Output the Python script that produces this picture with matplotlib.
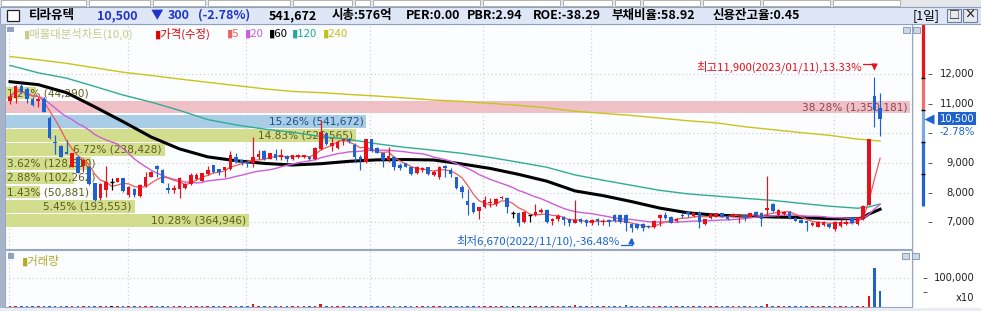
import matplotlib
matplotlib.use("Agg")
import matplotlib.pyplot as plt
import numpy as np
import pandas as pd
from matplotlib.patches import Rectangle
from matplotlib.transforms import offset_copy

plt.rcParams["font.family"] = ["Noto Sans CJK KR", "DejaVu Sans"]

# ---- daily candles (oldest first) ----
opens = [
    11110, 11190, 11600, 11520, 11160, 11090, 11160, 10510, 9700, 9580,
    9370, 8880, 9220, 8900, 8860, 8320, 7810, 8090, 8370, 8370,
    8480, 7920, 8110, 7890, 8230, 8540, 8900, 8770, 8150, 8090,
    8110, 8150, 8290, 8450, 8410, 8630, 8920, 8790, 8770, 8790,
    9200, 9100, 9050, 8990, 9200, 9420, 9150, 9310, 9200, 9250,
    9130, 9200, 9220, 9220, 9130, 9470, 10030, 9580, 9500, 9740,
    9800, 9610, 9220, 9050, 9800, 9510, 9330, 9100, 9220, 8940,
    8990, 8860, 8650, 8750, 8860, 8590, 8540, 8900, 8770, 8520,
    8200, 7730, 7640, 7390, 7530, 7640, 7620, 7810, 7810, 7300,
    7330, 7020, 7240, 7250, 7360, 7420, 7060, 7100, 7170, 7100,
    6990, 7100, 7080, 6970, 7120, 7020, 7080, 7250, 7250, 7250,
    6940, 6940, 6940, 6880, 6830, 7130, 7250, 7190, 7030, 7250,
    7350, 7210, 7350, 6940, 7130, 7190, 7300, 7210, 7190, 7210,
    7250, 7190, 7360, 7330, 7420, 7620, 7250, 7280, 7360, 7150,
    7080, 7050, 6910, 6850, 6910, 6940, 6760, 6890, 6940, 7170,
    6940, 7100, 7580, 11270, 10850]
highs = [
    11360, 11640, 11720, 11580, 11220, 11220, 11220, 10590, 9950, 9610,
    9780, 9350, 9240, 9130, 8880, 8340, 8320, 8900, 8490, 8500,
    8510, 8230, 8150, 8280, 8710, 8740, 8920, 8790, 8320, 8260,
    8540, 8330, 8650, 8670, 8680, 8900, 8950, 8810, 8880, 9420,
    9330, 9130, 9070, 9870, 9440, 9440, 9350, 9470, 9490, 9280,
    9290, 9300, 9290, 9250, 9530, 10460, 10060, 9840, 9780, 9830,
    9840, 9670, 9270, 9830, 9830, 9560, 9350, 9530, 9250, 9000,
    9010, 8880, 8900, 8860, 8880, 8770, 8900, 8920, 8820, 8540,
    8260, 8110, 7670, 7530, 7890, 7810, 7810, 7890, 7850, 7390,
    7350, 7390, 7240, 7620, 7470, 7450, 7160, 7280, 7210, 7140,
    7750, 7130, 7100, 7100, 7150, 7120, 7120, 7270, 7270, 7270,
    6970, 6970, 6970, 6900, 7080, 7270, 7350, 7210, 7150, 7300,
    7370, 7360, 7370, 7120, 7300, 7330, 7330, 7240, 7300, 7280,
    7280, 7330, 7390, 7350, 8560, 7640, 7440, 7390, 7390, 7170,
    7100, 7080, 7010, 7030, 7030, 6970, 7030, 7100, 7080, 7190,
    7190, 7570, 9810, 11900, 11360]
lows = [
    11000, 11020, 11360, 11020, 10940, 10900, 10720, 9810, 9300, 9200,
    9300, 8860, 8660, 8710, 8260, 7730, 7750, 7870, 8090, 8350,
    8040, 7840, 7840, 7870, 8200, 8520, 8540, 8320, 7980, 7980,
    7810, 8120, 8260, 8430, 8380, 8600, 8650, 8600, 8540, 8770,
    9010, 8920, 8880, 8880, 9150, 9100, 9130, 9120, 9100, 9050,
    9100, 9160, 9180, 9100, 9100, 9440, 9610, 9420, 9460, 9610,
    9670, 9050, 8770, 9010, 9380, 9330, 8880, 9050, 8770, 8750,
    8860, 8590, 8630, 8710, 8590, 8560, 8450, 8520, 8520, 8110,
    7810, 7250, 7300, 7100, 7470, 7530, 7560, 7790, 7330, 7130,
    6890, 6990, 7000, 7210, 7300, 6960, 6910, 7050, 6910, 6880,
    6970, 6970, 6880, 6910, 6910, 6910, 6890, 7000, 6960, 6720,
    6670, 6760, 6690, 6800, 6800, 6880, 7100, 6960, 7010, 7130,
    7190, 7190, 6800, 6910, 7110, 7170, 7170, 7080, 7170, 6990,
    7030, 7170, 7210, 6890, 7240, 7360, 7170, 7240, 7100, 7030,
    6970, 6690, 6890, 6830, 6890, 6800, 6690, 6850, 6910, 6940,
    6920, 7080, 7580, 10230, 9920]
closes = [
    11240, 11600, 11410, 11150, 10960, 11150, 10740, 9840, 9670, 9220,
    9320, 9330, 8680, 9100, 8290, 7750, 8300, 8370, 8370, 8480,
    8070, 8200, 7920, 8260, 8540, 8710, 8790, 8340, 8090, 8150,
    8490, 8290, 8600, 8600, 8650, 8770, 8710, 8710, 8860, 9270,
    9050, 9010, 8970, 9200, 9310, 9130, 9330, 9160, 9270, 9150,
    9260, 9260, 9260, 9150, 9500, 10060, 9650, 9670, 9720, 9800,
    9740, 9200, 9130, 9800, 9420, 9350, 9100, 9240, 8860, 8820,
    8880, 8630, 8860, 8820, 8620, 8710, 8880, 8820, 8630, 8150,
    8040, 7590, 7360, 7510, 7750, 7700, 7780, 7870, 7530, 7300,
    6970, 7360, 7240, 7360, 7420, 7020, 7120, 7210, 7080, 6970,
    7080, 7010, 6970, 7080, 7050, 7060, 7020, 7050, 7020, 6990,
    6800, 6800, 6800, 6830, 7060, 7250, 7130, 6990, 7120, 7210,
    7280, 7330, 7020, 7100, 7280, 7300, 7190, 7100, 7280, 7250,
    7190, 7300, 7250, 7100, 7500, 7390, 7420, 7360, 7130, 7060,
    6990, 6970, 6990, 7010, 7010, 6850, 7020, 7010, 7020, 6970,
    7170, 7550, 9810, 10800, 10500]
# volume in units of 10 shares
volumes = [
    3200, 4100, 3300, 3000, 2800, 2600, 3000, 4500, 3800, 3500,
    3000, 3600, 3300, 3100, 3500, 3800, 3900, 4200, 2400, 2600,
    2900, 2700, 2500, 2800, 3300, 3000, 2800, 3100, 2900, 2600,
    3400, 2500, 3000, 2700, 2900, 3100, 2800, 2500, 2600, 4200,
    3100, 2600, 2400, 9000, 3800, 3000, 2700, 2800, 2900, 2500,
    2600, 2400, 2300, 2500, 3200, 9200, 4300, 3300, 3000, 2800,
    2600, 3300, 3400, 4100, 3500, 2900, 3100, 3000, 3200, 2700,
    2600, 2900, 2800, 2500, 2900, 2700, 3100, 2800, 2700, 3300,
    3400, 4200, 3600, 3500, 3400, 2600, 2700, 2500, 3000, 2400,
    3500, 3200, 2300, 3300, 2600, 3000, 2700, 2500, 2700, 2800,
    6000, 2900, 2800, 2600, 2700, 2500, 2800, 3000, 3200, 6200,
    3600, 3000, 3100, 2500, 3000, 3200, 2900, 2800, 2500, 2600,
    2700, 2600, 3600, 3000, 2800, 2600, 2700, 2600, 2500, 2700,
    2600, 2800, 2700, 3000, 9200, 4000, 3200, 2700, 3000, 2600,
    2500, 3300, 2500, 2600, 2500, 2600, 3000, 2700, 2600, 2800,
    2900, 4500, 37400, 132600, 54167]

# long moving averages read at sampled candles
ma60_idx = list(range(0, 151, 5)) + [151, 152, 153, 154]
ma60 = [11750, 11650, 11380, 10900, 10400, 9880, 9480, 9210, 9080, 8990,
        8936, 8980, 9060, 9110, 9120, 9105, 8970, 8820, 8620, 8390,
        8060, 7900, 7700, 7480, 7320, 7240, 7210, 7180, 7160, 7122,
        7122, 7150, 7280, 7360, 7440]
ma120_idx = list(range(0, 151, 5)) + [152, 154]
ma120 = [12300, 12050, 11870, 11590, 11300, 11060, 10780, 10470, 10290, 10150,
         10040, 9900, 9800, 9650, 9530, 9435, 9330, 9190, 9030, 8860,
         8600, 8420, 8250, 8080, 7960, 7885, 7810, 7740, 7640, 7545,
         7475, 7520, 7618]
ma240_idx = list(range(0, 151, 5)) + [154]
ma240 = [12600, 12490, 12370, 12220, 12070, 11960, 11840, 11730, 11620, 11510,
         11420, 11380, 11320, 11265, 11200, 11130, 11085, 11020, 10950, 10870,
         10750, 10680, 10610, 10520, 10430, 10360, 10230, 10130, 10030, 9940,
         9810, 9747]

# volume profile (매물대), top bin first
prof_pct = [1.26, 38.28, 15.26, 14.83, 6.72, 3.62, 2.88, 1.43, 5.45, 10.28]
prof_vol = [44290, 1350181, 541672, 526565, 238428, 128610, 102262, 50881, 193553, 364946]
prof_top, prof_step = 11580, 478

month_starts = [0, 21, 42, 64, 84, 103, 125, 146]
hi_date, lo_date = "2023/01/11", "2022/11/10"
stock_name = "티라유텍"
today_volume = 541672
header_stats = ["시총:576억", "PER:0.00", "PBR:2.94", "ROE:-38.29", "부채비율:58.92", "신용잔고율:0.45"]

# ---- layout (pixels) ----
W, H = 981, 311
CL, CR = 5, 912
MT, MB = 24, 249
VT, VB = 250, 307
X0, DX = 10, 5.65
Y12K, PXW = 74.3, 0.0296
BG = "#fcfdff"
RED, BLUE = "#e8101a", "#1e62d0"
BORDER = "#98a8c4"
AXIS_FS = 7.2


def px_price(y):
    return 12000 - (y - Y12K) / PXW


def rect(x0, y0, x1, y1):
    return [x0 / W, 1 - y1 / H, (x1 - x0) / W, (y1 - y0) / H]


def fbox(x0, y0, x1, y1, **kw):
    fig.patches.append(Rectangle((x0 / W, 1 - y1 / H), (x1 - x0) / W, (y1 - y0) / H,
                                 transform=fig.transFigure, **kw))


def ftext(x, y, s, **kw):
    fig.text(x / W, 1 - y / H, s, **kw)


n = len(closes)
xs = np.arange(n)
o, h, l, c = (np.array(a, dtype=float) for a in (opens, highs, lows, closes))
xlim = ((CL - X0) / DX, (CR - X0) / DX)
ylim = (px_price(MB), px_price(MT))

fig = plt.figure(figsize=(W / 100, H / 100), dpi=100)
fig.patch.set_facecolor("white")

# top toolbar + header bar
fbox(0, 0, W, 7, fc="#e4e6ea", ec="none")
for a, b in [(1, 86), (89, 150), (153, 205), (208, 290), (293, 352), (355, 370), (373, 480),
             (483, 560), (563, 612), (615, 640), (643, 700), (703, 760), (763, 830), (833, 900)]:
    fbox(a, 0, b, 6, fc="white", ec="#a8a8a8", lw=0.6)
fbox(0, 7, W, 23.5, fc="#dfe7f6", ec="#8fa0c0", lw=0.8)
fbox(7, 10, 19, 21, fc="white", ec="#222222", lw=0.9)
chg = closes[-1] - closes[-2]
chg_pct = chg / closes[-2] * 100
hdr = dict(fontsize=9, fontweight="bold", va="center")
ftext(29, 15.5, stock_name, color="black", **hdr)
ftext(97, 15.5, f"{closes[-1]:,}", color="#1f35c8", **hdr)
ftext(151, 15.5, "▼" if chg < 0 else "▲", color="#1f35c8", **hdr)
ftext(168, 15.5, f"{abs(chg):,}", color="#1f35c8", **hdr)
ftext(198, 15.5, f"({chg_pct:.2f}%)", color="#1f35c8", **hdr)
ftext(269, 15.5, f"{today_volume:,}", color="black", **hdr)
for xpos, s in zip([332, 406, 467, 533, 612, 713], header_stats):
    ftext(xpos, 15.5, s, color="black", **hdr)
ftext(913, 15.5, "[1일]", color="black", fontsize=9, va="center")
for bx, g in [(947, "□"), (963, "×")]:
    fbox(bx, 9, bx + 14, 22, fc="#e6e9ef", ec="#6f7f9a", lw=0.8)
    ftext(bx + 7, 15.5, g, ha="center", va="center", fontsize=8, fontweight="bold", color="#222")

# left window edge and bottom strip
fbox(0, 23.5, 4.5, H, fc="#a7b3c8", ec="none")
fbox(0, 307.5, W, H, fc="#e9edf3", ec="none")

# ---- main price panel ----
gax = fig.add_axes(rect(CL, MT, CR, MB), label="grid", facecolor=BG)
gax.set_xlim(xlim)
gax.set_ylim(ylim)
gax.set_xticks([m - 0.2 for m in month_starts])
gax.set_yticks(range(7000, 12001, 1000))
gax.tick_params(length=0, labelbottom=False, labelleft=False)
gax.grid(color="#c6cad2", ls=(0, (1, 2.5)), lw=0.8)
for sp in gax.spines.values():
    sp.set_color(BORDER)

pax = fig.add_axes(rect(CL, MT, CR, MB), label="profile", facecolor="none")
px_per_pct = (910 - 6) / prof_pct[1]
pax.set_xlim(-(6 - CL) / px_per_pct, (CR - 6) / px_per_pct)
pax.set_ylim(ylim)
pax.axis("off")
cur_bin = int((prof_top - closes[-1]) // prof_step)
max_bin = int(np.argmax(prof_vol))
for k, (p, v) in enumerate(zip(prof_pct, prof_vol)):
    yc = prof_top - k * prof_step - 0.445 * prof_step
    if k == max_bin:
        fc, tc = "#efc1c7", "#8a4650"
    elif k == cur_bin:
        fc, tc = "#a9cde6", "#1d4f82"
    else:
        fc, tc = "#d2dd8e", "#5e5e16"
    pax.barh(yc, p, height=0.89 * prof_step, left=0, color=fc, lw=0)
    lab = f"{p:.2f}% ({v:,})"
    if p < 5:
        tr = offset_copy(pax.transData, fig=fig, x=1, y=0, units="dots")
        pax.text(0, yc, lab, ha="left", va="center", color=tc, fontsize=7.6,
                 family="DejaVu Sans", transform=tr)
    else:
        tr = offset_copy(pax.transData, fig=fig, x=-3, y=0, units="dots")
        pax.text(p, yc, lab, ha="right", va="center", color=tc, fontsize=7.6,
                 family="DejaVu Sans", transform=tr)

ax = fig.add_axes(rect(CL, MT, CR, MB), label="price", facecolor="none")
ax.set_xlim(xlim)
ax.set_ylim(ylim)
ax.axis("off")

ser = pd.Series(c)
ax.plot(ma240_idx, ma240, color="#c9c41a", lw=1.0, zorder=2)
ax.plot(ma120_idx, ma120, color="#2fac94", lw=1.0, zorder=2)
ax.plot(ma60_idx, ma60, color="black", lw=2.2, zorder=2)
ax.plot(xs, ser.rolling(20, min_periods=1).mean(), color="#cc5fd6", lw=1.0, zorder=2)
ax.plot(xs, ser.rolling(5, min_periods=1).mean(), color="#ee5a5a", lw=0.9, zorder=2)

cols = np.where(c > o, RED, np.where(c < o, BLUE, "black"))
ax.vlines(xs, l, h, colors=cols, lw=0.85, zorder=3)
ax.bar(xs, np.abs(c - o), bottom=np.minimum(o, c), width=0.62, color=cols, lw=0, zorder=4)
flat = c == o
ax.hlines(c[flat], xs[flat] - 0.35, xs[flat] + 0.35, colors="black", lw=1, zorder=4)

# high / low markers
ihi, ilo = int(np.argmax(h)), int(np.argmin(l))
hi_pct = (h[ihi] / c[-1] - 1) * 100
lo_pct = (l[ilo] / c[-1] - 1) * 100
ax.annotate(f"최고{int(h[ihi]):,}({hi_date}),{hi_pct:.2f}%", xy=(ihi, h[ihi]), xytext=(-12, 11),
            textcoords="offset pixels", ha="right", va="center", color=RED, fontsize=8.2)
ax.annotate("", xy=(ihi, h[ihi]), xytext=(-11, 13.5), textcoords="offset pixels",
            arrowprops=dict(arrowstyle="-|>,head_length=0.35,head_width=0.18", color=RED, lw=0.9,
                            connectionstyle="angle,angleA=0,angleB=90,rad=0",
                            shrinkA=0, shrinkB=5))
ax.annotate(f"최저{int(l[ilo]):,}({lo_date}),{lo_pct:.2f}%", xy=(ilo, l[ilo]), xytext=(-12, -9),
            textcoords="offset pixels", ha="right", va="center", color=BLUE, fontsize=8.2)
ax.annotate("", xy=(ilo, l[ilo]), xytext=(-11, -12.5), textcoords="offset pixels",
            arrowprops=dict(arrowstyle="-|>,head_length=0.35,head_width=0.18", color=BLUE, lw=0.9,
                            connectionstyle="angle,angleA=0,angleB=90,rad=0",
                            shrinkA=0, shrinkB=4))

# legend row
fbox(7, 27, 14, 32, fc="#8ea2c2", ec="none")
legend_items = [(24, "▮매물대분석차트(10,0)", "#c6cc8a"), (155, "▮가격(수정)", "#e00000"),
                (227, "▮5", "#e86464"), (245, "▮20", "#c462d6"), (269, "▮60", "black"),
                (292, "▮120", "#22a897"), (323, "▮240", "#c2c21e")]
for lx, s, col in legend_items:
    ftext(lx, 33.5, s, color=col, fontsize=8.2, va="center")
for bx in (903, 913):
    fbox(bx, 27, bx + 7, 33, fc="#cdd7e8", ec="#7d90b2", lw=0.6)

# right price axis
rax = fig.add_axes(rect(CR, MT, W, MB), label="raxis", facecolor="white")
rax.set_xlim(0, W - CR)
rax.set_ylim(ylim)
rax.axis("off")
prev = closes[-2]
lim_lv = [prev * f for f in (0.7, 0.8, 0.9, 1.0, 1.1, 1.3)]
seg_cols = ["#1f63d0", "#2a6fd6", "#7aa7e6", "#f07070", "#e8141e"]
for (a, b), sc in zip(zip(lim_lv[:-1], lim_lv[1:]), seg_cols):
    rax.vlines(11, a, b, colors=sc, lw=2.3)
rax.hlines(lim_lv[1:5], 9.3, 12.7, colors="black", lw=1.0)
for lv in range(7000, 12001, 1000):
    rax.hlines(lv, 16, 20, colors="#555555", lw=0.7)
    if lv != 10000:
        rax.text(62.5, lv, f"{lv:,}", ha="right", va="center", fontsize=AXIS_FS, color="#202020",
                 family="DejaVu Sans")
rax.plot(16.5, closes[-1], marker="<", ms=6.5, color=BLUE, mec="none")
rax.text(62.5, closes[-1], f"{closes[-1]:,}", ha="right", va="center", fontsize=AXIS_FS,
         color="white", family="DejaVu Sans",
         bbox=dict(fc=BLUE, ec="none", boxstyle="square,pad=0.15"))
rax.text(62.5, closes[-1], f"{chg_pct:.2f}%", ha="right", va="center", fontsize=AXIS_FS, color=BLUE,
         family="DejaVu Sans", transform=offset_copy(rax.transData, fig=fig, y=-13, units="dots"),
         bbox=dict(fc="white", ec="none", boxstyle="square,pad=0.1"))
rax.plot([0, 0], ylim, color=BORDER, lw=1)

# ---- volume panel ----
vax = fig.add_axes(rect(CL, VT, CR, VB), label="volume", facecolor=BG)
vtop = 100000 * (VB - VT) / 29.5
vax.set_xlim(xlim)
vax.set_ylim(0, vtop)
vax.set_xticks([m - 0.2 for m in month_starts])
vax.set_yticks([100000])
vax.tick_params(length=0, labelbottom=False, labelleft=False)
vax.grid(color="#c6cad2", ls=(0, (1, 2.5)), lw=0.8)
vax.set_axisbelow(True)
for sp in vax.spines.values():
    sp.set_color(BORDER)
vax.bar(xs, volumes, width=0.45, color=cols, lw=0)
fbox(8, 253, 14, 259, fc="#8ea2c2", ec="none")
ftext(22, 261, "▮거래량", color="#b3aa2c", fontsize=8.2, va="center")
for bx in (902, 912):
    fbox(bx, 253, bx + 7, 259, fc="#cdd7e8", ec="#7d90b2", lw=0.6)

vrax = fig.add_axes(rect(CR, VT, W, VB), label="vraxis", facecolor="white")
vrax.set_xlim(0, W - CR)
vrax.set_ylim(0, vtop)
vrax.axis("off")
vrax.hlines([50000, 100000], 11, 15, colors="#555555", lw=0.7)
vrax.text(62.5, 100000, "100,000", ha="right", va="center", fontsize=AXIS_FS, color="#202020",
          family="DejaVu Sans")
vrax.text(62.5, 30000, "x10", ha="right", va="center", fontsize=AXIS_FS, color="#202020",
          family="DejaVu Sans")
vrax.plot([0, 0], [0, vtop], color=BORDER, lw=1)

fig.savefig("out.png", dpi=100)
